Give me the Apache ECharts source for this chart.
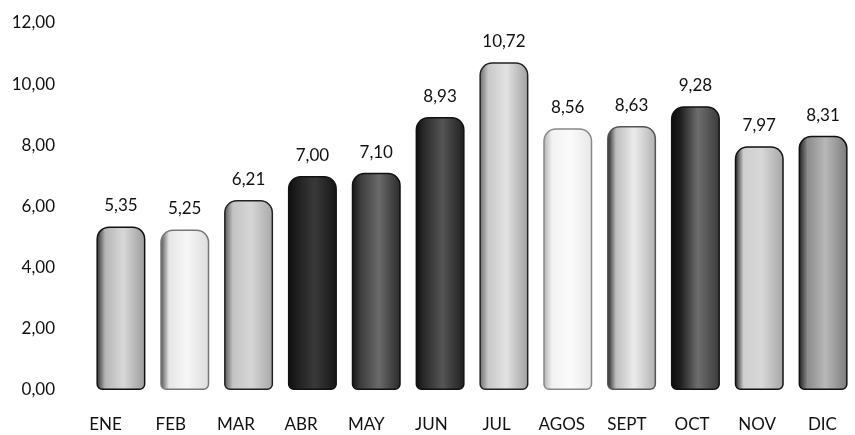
<!DOCTYPE html>
<html>
<head>
<meta charset="utf-8">
<script src="https://cdn.jsdelivr.net/npm/echarts@6/dist/echarts.min.js"></script>
<style>html,body{margin:0;padding:0;background:#fff}#c{width:855px;height:435px}</style>
</head>
<body>
<div id="c"></div>
<script>
const categories = ['ENE','FEB','MAR','ABR','MAY','JUN','JUL','AGOS','SEPT','OCT','NOV','DIC'];
const values = [5.35, 5.25, 6.21, 7.00, 7.10, 8.93, 10.72, 8.56, 8.63, 9.28, 7.97, 8.31];
const yTicks = { min: 0, max: 12, interval: 2 };

// gradient stops per bar (left edge -> body -> right), grayscale like the scanned cylinders
const shades = [
  ['#2a2a2a','#b5b5b5','#d8d8d8','#9a9a9a'],
  ['#4a4a4a','#e6e6e6','#f6f6f6','#dcdcdc'],
  ['#555555','#c4c4c4','#d6d6d6','#a8a8a8'],
  ['#0c0c0c','#1e1e1e','#3a3a3a','#141414'],
  ['#151515','#3c3c3c','#6a6a6a','#2a2a2a'],
  ['#0f0f0f','#2a2a2a','#555555','#1e1e1e'],
  ['#6a6a6a','#c8c8c8','#e2e2e2','#a0a0a0'],
  ['#b0b0b0','#f2f2f2','#fbfbfb','#e8e8e8'],
  ['#1a1a1a','#bdbdbd','#ececec','#b0b0b0'],
  ['#0a0a0a','#1c1c1c','#6e6e6e','#3a3a3a'],
  ['#1a1a1a','#cfcfcf','#d8d8d8','#a5a5a5'],
  ['#1a1a1a','#8c8c8c','#b8b8b8','#7a7a7a']
];
const borders = ['#111','#777','#222','#111','#111','#111','#222','#888','#555','#111','#111','#111'];

const fmt = v => v.toFixed(2).replace('.', ',');
const FONT = 'Lato, "Open Sans", sans-serif';

const chart = echarts.init(document.getElementById('c'), null, { renderer: 'canvas' });
chart.setOption({
  animation: false,
  backgroundColor: '#ffffff',
  grid: [
    { left: 89, width: 768, top: 23, height: 367 },
    { left: 73, width: 792, top: 23, height: 367 }
  ],
  xAxis: [
    { type: 'category', gridIndex: 0, data: categories,
      axisLine: { show: false }, axisTick: { show: false }, axisLabel: { show: false } },
    { type: 'category', gridIndex: 1, data: categories,
      axisLine: { show: false }, axisTick: { show: false },
      axisLabel: { margin: 26, fontFamily: FONT, fontSize: 17, color: '#111' } }
  ],
  yAxis: [
    { type: 'value', gridIndex: 0, min: yTicks.min, max: yTicks.max, interval: yTicks.interval,
      axisLine: { show: false }, axisTick: { show: false }, splitLine: { show: false },
      axisLabel: { margin: 34, fontFamily: FONT, fontSize: 17, color: '#111', formatter: v => fmt(v) } },
    { type: 'value', gridIndex: 1, min: yTicks.min, max: yTicks.max, show: false }
  ],
  series: [{
    type: 'bar',
    xAxisIndex: 0, yAxisIndex: 0,
    barWidth: 49,
    data: values.map((v, i) => ({
      value: v,
      itemStyle: {
        color: new echarts.graphic.LinearGradient(0, 0, 1, 0, [
          { offset: 0, color: shades[i][0] },
          { offset: 0.18, color: shades[i][1] },
          { offset: 0.55, color: shades[i][2] },
          { offset: 1, color: shades[i][3] }
        ]),
        borderColor: borders[i],
        borderWidth: 1.5,
        borderRadius: [12, 12, 5, 5]
      }
    })),
    label: {
      show: true, position: 'top', distance: 12,
      fontFamily: FONT, fontSize: 17, color: '#111',
      formatter: p => fmt(p.value)
    }
  }]
});
</script>
</body>
</html>
